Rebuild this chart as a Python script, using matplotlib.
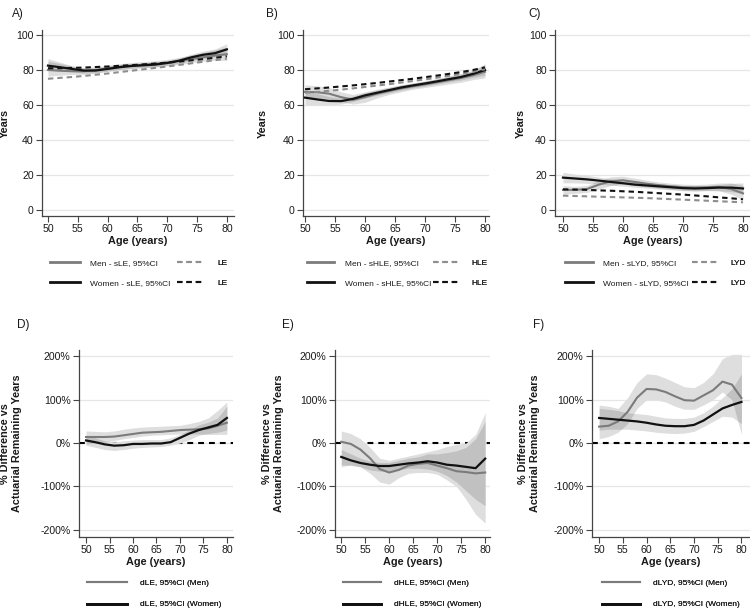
import matplotlib
matplotlib.use('Agg')
import matplotlib.pyplot as plt
from matplotlib.lines import Line2D

plt.rcParams['font.family'] = ['Liberation Sans', 'DejaVu Sans']

# ---------------- data ----------------
ages = [50, 52, 54, 56, 58, 60, 62, 64, 66, 68, 70, 72, 74, 76, 78, 80]
x_ticks = [50, 55, 60, 65, 70, 75, 80]
top_yticks = [0, 20, 40, 60, 80, 100]
bot_yticks = [-200, -100, 0, 100, 200]
bot_yticklabels = ['-200%', '-100%', '0%', '100%', '200%']

# Panel A (LE)
a_men = [80.0, 79.6, 79.3, 79.3, 80.0, 81.0, 81.8, 82.5, 83.0, 83.5, 84.2, 85.2, 86.3, 87.3, 88.3, 89.0]
a_men_lo = [76.5, 77.0, 77.5, 77.5, 78.3, 79.3, 80.0, 80.8, 81.3, 81.7, 82.4, 83.2, 84.0, 85.0, 85.5, 85.5]
a_men_hi = [86.5, 84.5, 82.5, 81.3, 81.8, 82.7, 83.6, 84.3, 84.8, 85.3, 86.0, 87.2, 88.6, 89.8, 91.5, 93.0]
a_wom = [82.5, 81.6, 80.6, 79.7, 79.7, 80.6, 81.6, 82.3, 82.7, 83.1, 84.0, 85.3, 87.2, 88.7, 89.6, 91.8]
a_wom_lo = [80.0, 79.5, 79.0, 78.2, 78.3, 79.3, 80.3, 81.0, 81.4, 81.8, 82.6, 83.8, 85.4, 86.7, 87.5, 89.0]
a_wom_hi = [85.0, 83.7, 82.2, 81.2, 81.2, 82.0, 83.0, 83.6, 84.0, 84.5, 85.4, 86.8, 89.0, 90.8, 92.0, 95.0]
a_men_ref = [75.0, 75.5, 76.0, 76.6, 77.3, 78.0, 78.8, 79.6, 80.4, 81.2, 82.0, 82.9, 83.8, 84.7, 85.6, 86.5]
a_wom_ref = [81.0, 81.0, 81.2, 81.4, 81.7, 82.0, 82.4, 82.8, 83.2, 83.7, 84.2, 84.8, 85.5, 86.2, 87.0, 87.8]

# Panel B (HLE)
b_men = [67.5, 67.3, 66.5, 64.5, 63.0, 64.5, 66.5, 68.0, 69.5, 70.7, 71.8, 73.0, 74.2, 75.5, 77.0, 79.0]
b_men_lo = [64.0, 64.0, 63.5, 62.0, 60.5, 61.5, 64.0, 66.0, 67.5, 69.0, 70.0, 71.0, 72.0, 73.0, 74.5, 75.5]
b_men_hi = [71.5, 71.0, 70.0, 67.5, 66.0, 67.5, 69.0, 70.2, 71.5, 72.5, 73.6, 75.0, 76.4, 78.0, 79.5, 83.0]
b_wom = [64.2, 63.2, 62.3, 62.2, 63.5, 65.5, 67.0, 68.5, 70.0, 71.2, 72.3, 73.5, 74.8, 76.0, 77.8, 80.0]
b_wom_lo = [60.0, 60.0, 60.0, 60.5, 62.0, 64.0, 65.5, 67.0, 68.5, 69.8, 70.8, 72.0, 73.2, 74.3, 75.8, 77.0]
b_wom_hi = [68.0, 66.5, 64.8, 64.0, 65.0, 67.0, 68.5, 70.0, 71.5, 72.6, 73.8, 75.0, 76.4, 77.7, 80.0, 83.5]
b_men_ref = [67.0, 67.5, 68.1, 68.8, 69.5, 70.3, 71.1, 71.9, 72.8, 73.7, 74.6, 75.6, 76.7, 77.8, 79.0, 80.5]
b_wom_ref = [69.0, 69.5, 70.0, 70.6, 71.2, 71.9, 72.6, 73.4, 74.2, 75.0, 75.9, 76.8, 77.8, 78.8, 80.0, 81.5]

# Panel C (LYD)
c_men = [11.5, 11.5, 12.0, 14.5, 16.5, 17.0, 16.0, 15.0, 14.2, 13.5, 13.0, 12.8, 13.0, 13.2, 12.0, 9.5]
c_men_lo = [9.0, 9.5, 10.0, 12.0, 14.0, 14.8, 14.0, 13.2, 12.5, 11.8, 11.3, 11.0, 11.2, 11.0, 9.0, 6.0]
c_men_hi = [14.0, 13.5, 14.0, 17.0, 19.0, 19.3, 18.2, 17.0, 16.0, 15.3, 14.8, 14.6, 14.8, 15.4, 15.5, 14.0]
c_wom = [18.5, 18.0, 17.5, 16.8, 16.0, 15.3, 14.5, 14.0, 13.5, 13.0, 12.5, 12.3, 12.5, 12.8, 12.8, 12.3]
c_wom_lo = [15.5, 15.5, 15.2, 14.8, 14.2, 13.6, 13.0, 12.5, 12.0, 11.5, 11.0, 10.8, 11.0, 11.0, 10.5, 9.5]
c_wom_hi = [21.5, 20.5, 19.8, 18.8, 17.8, 17.0, 16.0, 15.5, 15.0, 14.5, 14.0, 13.8, 14.0, 14.6, 15.2, 15.5]
c_men_ref = [8.2, 8.0, 7.8, 7.6, 7.4, 7.2, 7.0, 6.8, 6.5, 6.2, 5.9, 5.6, 5.3, 5.0, 4.7, 4.4]
c_wom_ref = [11.8, 11.7, 11.5, 11.2, 11.0, 10.7, 10.4, 10.0, 9.6, 9.2, 8.8, 8.3, 7.8, 7.2, 6.7, 6.1]

# Panel D (dLE, %)
d_men = [14, 14, 14, 15, 18, 21, 24, 25, 26, 28, 30, 31, 32, 34, 40, 47]
d_men_lo = [-2, 0, 2, 6, 10, 13, 16, 18, 19, 20, 21, 21, 21, 20, 20, 20]
d_men_hi = [28, 27, 26, 28, 32, 35, 37, 38, 39, 40, 41, 45, 50, 58, 75, 95]
d_wom = [6, 2, -3, -6, -5, -2, -2, -1, -1, 2, 12, 22, 30, 36, 42, 58]
d_wom_lo = [-5, -10, -15, -17, -15, -12, -10, -9, -8, -5, 0, 8, 18, 22, 25, 30]
d_wom_hi = [18, 12, 5, 3, 5, 7, 8, 8, 8, 12, 20, 30, 42, 48, 58, 85]

# Panel E (dHLE, %)
e_men = [3, -2, -15, -35, -60, -68, -62, -52, -48, -46, -52, -58, -65, -67, -70, -68]
e_men_lo = [-55, -50, -55, -70, -90, -95, -80, -70, -68, -68, -72, -85, -100, -130, -165, -185]
e_men_hi = [28, 22, 10, -10, -35, -40, -35, -30, -25, -20, -15, -8, -3, 0, 20, 70]
e_wom = [-32, -40, -46, -50, -53, -53, -50, -47, -45, -42, -45, -50, -52, -55, -58, -36]
e_wom_lo = [-50, -52, -55, -62, -65, -65, -62, -58, -58, -60, -65, -75, -90, -110, -130, -145]
e_wom_hi = [-15, -25, -35, -42, -45, -45, -40, -35, -32, -25, -25, -22, -18, -10, 10, 50]

# Panel F (dLYD, %)
f_men = [38, 40, 50, 72, 105, 125, 124, 118, 108, 99, 98, 110, 122, 142, 135, 104]
f_men_lo = [10, 15, 25, 45, 80, 100, 100, 95, 85, 78, 78, 88, 100, 118, 100, 20]
f_men_hi = [88, 85, 80, 105, 140, 160, 158, 150, 140, 130, 128, 140, 160, 195, 205, 205]
f_wom = [58, 56, 54, 52, 50, 47, 43, 40, 39, 39, 42, 52, 66, 80, 88, 95]
f_wom_lo = [30, 32, 32, 32, 30, 28, 25, 23, 22, 23, 27, 38, 50, 62, 60, 45]
f_wom_hi = [80, 78, 75, 70, 68, 66, 62, 58, 57, 57, 60, 70, 85, 105, 125, 160]

# ---------------- style ----------------
W, H = 750, 608
MEN_C = '#7b7b7b'
WOM_C = '#111111'
REF_MEN_C = '#8e8e8e'
TXT = '#1a1a1a'
SPINE = '#444444'
GRID = '#e6e6e6'
DASH = (0, (2.6, 1.9))

fig = plt.figure(figsize=(W / 100, H / 100), dpi=100)


def rect(l, r, t, b):
    return [l / W, 1 - b / H, (r - l) / W, (b - t) / H]


def style_axes(ax, xlim, ylim, yticks, yticklabels=None):
    ax.set_xlim(*xlim)
    ax.set_ylim(*ylim)
    ax.set_xticks(x_ticks)
    ax.set_yticks(yticks)
    if yticklabels is not None:
        ax.set_yticklabels(yticklabels)
    for s in ['top', 'right']:
        ax.spines[s].set_visible(False)
    for s in ['left', 'bottom']:
        ax.spines[s].set_color(SPINE)
        ax.spines[s].set_linewidth(0.9)
    ax.tick_params(axis='both', length=4, width=0.8, color=SPINE,
                   labelsize=7.6, labelcolor=TXT, pad=2)
    for yt in yticks:
        ax.axhline(yt, color=GRID, lw=0.9, zorder=0.5)
    ax.set_xlabel('Age (years)', fontsize=7.8, fontweight='bold', color=TXT, labelpad=1)


def draw_bands(ax, pairs):
    for lo, hi in pairs:
        ax.fill_between(ages, lo, hi, color='white', lw=0, zorder=1.5)
    for lo, hi in pairs:
        ax.fill_between(ages, lo, hi, color='black', alpha=0.13, lw=0, zorder=2)


def add_legend(ax, handles, labels, x_px, y_px, hl_px, htp_px, spacing):
    fs = 6.0
    fpx = fs * 100 / 72
    leg = ax.legend(handles, labels, loc='center left',
                    bbox_to_anchor=(x_px / W, 1 - y_px / H),
                    bbox_transform=fig.transFigure, frameon=False,
                    fontsize=fs, handlelength=hl_px / fpx,
                    handletextpad=htp_px / fpx, borderpad=0,
                    borderaxespad=0, labelspacing=spacing)
    for t in leg.get_texts():
        t.set_color(TXT)
    ax.add_artist(leg)


# ---------------- top row ----------------
top_specs = [
    dict(rect=(42, 234), xlim=(49.0, 81.2), letter='A)', lx=12,
         men=a_men, men_lo=a_men_lo, men_hi=a_men_hi,
         wom=a_wom, wom_lo=a_wom_lo, wom_hi=a_wom_hi,
         men_ref=a_men_ref, wom_ref=a_wom_ref, short='sLE', ref='LE',
         leg1=(50, 30, 10), leg2=(177, 26, 14), ylx=10),
    dict(rect=(303, 489), xlim=(49.67, 80.67), letter='B)', lx=266,
         men=b_men, men_lo=b_men_lo, men_hi=b_men_hi,
         wom=b_wom, wom_lo=b_wom_lo, wom_hi=b_wom_hi,
         men_ref=b_men_ref, wom_ref=b_wom_ref, short='sHLE', ref='HLE',
         leg1=(307, 27, 11), leg2=(433, 26, 12), ylx=268),
    dict(rect=(555, 750), xlim=(48.67, 81.17), letter='C)', lx=528,
         men=c_men, men_lo=c_men_lo, men_hi=c_men_hi,
         wom=c_wom, wom_lo=c_wom_lo, wom_hi=c_wom_hi,
         men_ref=c_men_ref, wom_ref=c_wom_ref, short='sLYD', ref='LYD',
         leg1=(565, 28, 10), leg2=(692, 26, 12), ylx=526),
]

for sp in top_specs:
    l, r = sp['rect']
    ax = fig.add_axes(rect(l, r, 30, 216))
    style_axes(ax, sp['xlim'], (-3.43, 102.86), top_yticks)
    ax.set_ylabel('Years', fontsize=7.8, fontweight='bold', color=TXT)
    ax.yaxis.set_label_coords((sp['ylx'] - l) / (r - l), 0.5)
    draw_bands(ax, [(sp['men_lo'], sp['men_hi']), (sp['wom_lo'], sp['wom_hi'])])
    ax.plot(ages, sp['men'], color=MEN_C, lw=1.5, zorder=3)
    ax.plot(ages, sp['wom'], color=WOM_C, lw=1.6, zorder=3.1)
    ax.plot(ages, sp['men_ref'], color=REF_MEN_C, lw=1.5, ls=DASH, zorder=3.2)
    ax.plot(ages, sp['wom_ref'], color=WOM_C, lw=1.5, ls=DASH, zorder=3.3)
    fig.text(sp['lx'] / W, 1 - 14 / H, sp['letter'], fontsize=8.5, color=TXT,
             ha='left', va='center')
    h1 = [Line2D([], [], color=MEN_C, lw=2.0), Line2D([], [], color=WOM_C, lw=2.0)]
    l1 = ['Men - %s, 95%%CI' % sp['short'], 'Women - %s, 95%%CI' % sp['short']]
    h2 = [Line2D([], [], color=REF_MEN_C, lw=1.5, ls=DASH),
          Line2D([], [], color=WOM_C, lw=1.5, ls=DASH)]
    l2 = [sp['ref'], sp['ref']]
    x1, hl1, tp1 = sp['leg1']
    x2, hl2, tp2 = sp['leg2']
    add_legend(ax, h1, l1, x1, 273, hl1, tp1, 1.5)
    add_legend(ax, h2, l2, x2, 273, hl2, tp2, 1.5)

# ---------------- bottom row ----------------
bot_specs = [
    dict(rect=(79, 233), xlim=(48.5, 81.3), letter='D)', lx=17,
         men=d_men, men_lo=d_men_lo, men_hi=d_men_hi,
         wom=d_wom, wom_lo=d_wom_lo, wom_hi=d_wom_hi, short='dLE',
         leg=(87, 40, 13), ylx=22),
    dict(rect=(335, 490), xlim=(48.7, 81.0), letter='E)', lx=282,
         men=e_men, men_lo=e_men_lo, men_hi=e_men_hi,
         wom=e_wom, wom_lo=e_wom_lo, wom_hi=e_wom_hi, short='dHLE',
         leg=(343, 38, 13), ylx=284),
    dict(rect=(592, 750), xlim=(48.5, 81.8), letter='F)', lx=533,
         men=f_men, men_lo=f_men_lo, men_hi=f_men_hi,
         wom=f_wom, wom_lo=f_wom_lo, wom_hi=f_wom_hi, short='dLYD',
         leg=(602, 38, 13), ylx=540),
]

for sp in bot_specs:
    l, r = sp['rect']
    ax = fig.add_axes(rect(l, r, 350, 537))
    style_axes(ax, sp['xlim'], (-217, 215), bot_yticks, bot_yticklabels)
    ax.set_ylabel('% Difference vs\nActuarial Remaining Years', fontsize=7.8,
                  fontweight='bold', color=TXT, linespacing=1.25)
    ax.yaxis.set_label_coords((sp['ylx'] - l) / (r - l), 0.5)
    ax.axhline(0, color='black', lw=1.5, ls=(0, (2.8, 2.4)), zorder=1.2)
    draw_bands(ax, [(sp['men_lo'], sp['men_hi']), (sp['wom_lo'], sp['wom_hi'])])
    ax.plot(ages, sp['men'], color=MEN_C, lw=1.5, zorder=3)
    ax.plot(ages, sp['wom'], color=WOM_C, lw=1.6, zorder=3.1)
    fig.text(sp['lx'] / W, 1 - 325 / H, sp['letter'], fontsize=8.5, color=TXT,
             ha='left', va='center')
    h = [Line2D([], [], color=MEN_C, lw=1.5), Line2D([], [], color=WOM_C, lw=2.0)]
    lab = ['%s, 95%%CI (Men)' % sp['short'], '%s, 95%%CI (Women)' % sp['short']]
    x, hl, tp = sp['leg']
    add_legend(ax, h, lab, x, 594, hl, tp, 1.6)

fig.savefig('out.png', dpi=100)
